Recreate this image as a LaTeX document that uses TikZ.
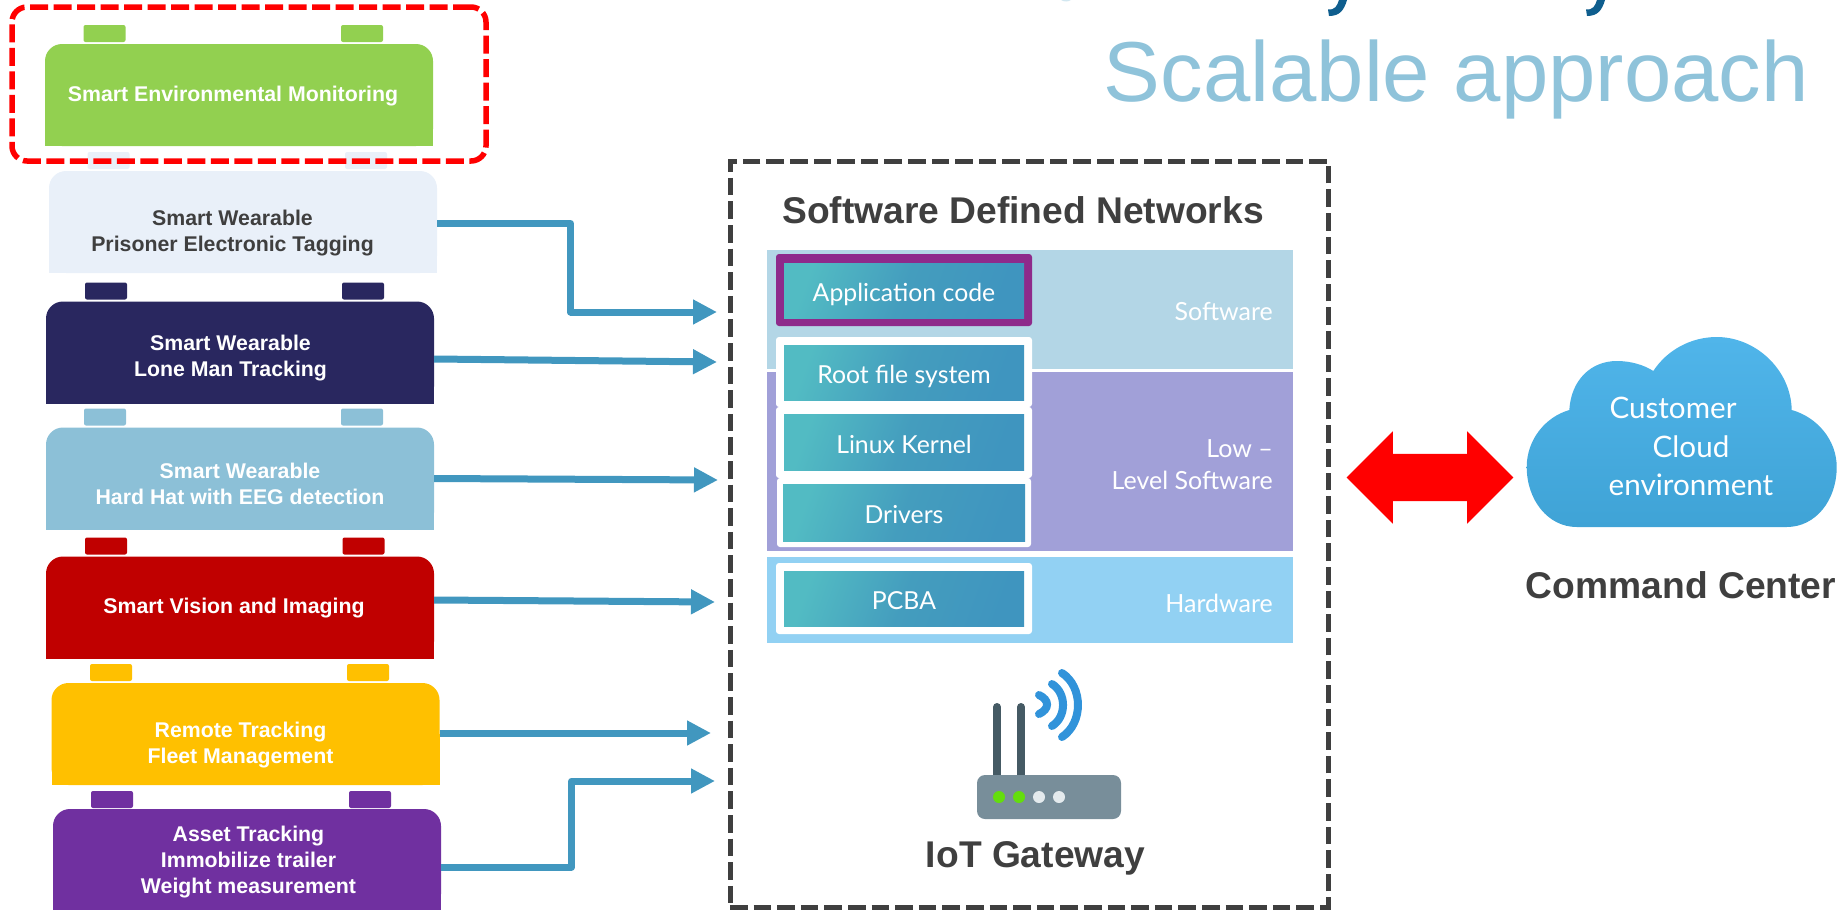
\documentclass[tikz,border=0pt]{standalone}
\usepackage{fontspec}
\setmainfont{Liberation Sans}
\newfontfamily\gillfont{Lato}
\usetikzlibrary{arrows.meta,shapes.arrows}
\definecolor{envgreen}{HTML}{92D050}
\definecolor{tagblue}{HTML}{E9F0F9}
\definecolor{lonenavy}{HTML}{29275F}
\definecolor{hatblue}{HTML}{8CC0D7}
\definecolor{visionred}{HTML}{C00000}
\definecolor{fleetgold}{HTML}{FFC000}
\definecolor{assetpurple}{HTML}{7030A0}
\definecolor{linkblue}{HTML}{4197BF}
\definecolor{darktext}{HTML}{3F3F3F}
\definecolor{softband}{HTML}{B3D6E6}
\definecolor{lowband}{HTML}{A1A0D8}
\definecolor{hardband}{HTML}{92D1F3}
\definecolor{layerteal}{HTML}{52BBC3}
\definecolor{layermid}{HTML}{449DBE}
\definecolor{layerblue}{HTML}{3F95BF}
\definecolor{apppurple}{HTML}{8E2A8B}
\definecolor{antennagrey}{HTML}{455A64}
\definecolor{routergrey}{HTML}{788E9A}
\definecolor{ledgreen}{HTML}{64DD0E}
\definecolor{ledgrey}{HTML}{E4EAED}
\definecolor{wavecolor}{HTML}{3193DA}
\definecolor{cloudtop}{HTML}{50B5EA}
\definecolor{cloudbottom}{HTML}{3FA3D6}
\definecolor{titledark}{HTML}{0F5E8E}
\definecolor{titlelight}{HTML}{8FC3DA}
\tikzset{
  devtab/.style={rectangle, draw=none, rounded corners=2pt, inner sep=0pt, minimum width=42pt, minimum height=17pt},
  devfoot/.style={rectangle, draw=none, inner sep=0pt, minimum width=388pt, minimum height=51pt},
  devbody/.style={rectangle, draw=none, rounded corners=17pt, inner sep=0pt, minimum width=388pt, minimum height=102pt},
  devtext/.style={inner sep=0pt, align=center, text=white, font=\fontsize{21.3}{26}\selectfont\bfseries},
  band/.style={rectangle, draw=none, inner sep=0pt, minimum width=526pt},
  layerframe/.style={rectangle, fill=white, draw=none, rounded corners=3pt, inner sep=0pt, minimum width=256pt},
  layerbox/.style={rectangle, draw=none, left color=layerteal, right color=layerblue, middle color=layermid, shading angle=70, inner sep=0pt, text height=22pt, text depth=0pt, minimum width=240pt, minimum height=55pt, font=\gillfont\fontsize{24.8}{30}\selectfont, text=white},
  bandlabel/.style={anchor=east, align=right, inner sep=0pt, font=\gillfont\fontsize{25}{31.5}\selectfont, text=white},
  heading/.style={inner sep=0pt, font=\fontsize{37.2}{44}\selectfont\bfseries, text=darktext},
  link/.style={draw=linkblue, line width=7pt, line join=round, -{Triangle[length=24pt,width=23.5pt]}},
  antenna/.style={draw=antennagrey, line width=8pt, line cap=round},
  wave/.style={draw=wavecolor, line width=8pt, line cap=round},
  led/.style={circle, draw=none, inner sep=0pt, minimum size=12pt}
}
\begin{document}
\begin{tikzpicture}[x=1pt,y=-1pt]
\useasboundingbox (0,0) rectangle (1847,910);
\node (title) [inner sep=0pt, anchor=base east, font=\fontsize{85.1}{90}\selectfont, text=titlelight] at (1809,101) {Scalable approach};
\fill [titledark] (1347,0) .. controls (1344,10) and (1340,16) .. (1329,16) -- (1328,9.5) .. controls (1335,10) and (1337,6) .. (1339,0) -- cycle;
\fill [titledark] (1605,0) .. controls (1602,10) and (1598,16) .. (1587,16) -- (1586,9.5) .. controls (1593,10) and (1595,6) .. (1597,0) -- cycle;
\fill [titlelight!40!white] (1061,0) .. controls (1064,2) and (1068,2) .. (1071,0) -- cycle;
% devices
\node (envtabl) [devtab, fill=envgreen] at (104.5,33.5) {};
\node (envtabr) [devtab, fill=envgreen] at (362,33.5) {};
\node (envfoot) [devfoot, fill=envgreen] at (239,120.5) {};
\node (env) [devbody, fill=envgreen] at (239,95) {};
\node (envtext) [devtext] at (233,96.5) {Smart Environmental Monitoring};
\node (tagtabl) [devtab, fill=tagblue] at (108.5,160.5) {};
\node (tagtabr) [devtab, fill=tagblue] at (366,160.5) {};
\node (tagfoot) [devfoot, fill=tagblue] at (243,247.5) {};
\node (tag) [devbody, fill=tagblue] at (243,222) {};
\node (tagtext) [devtext, text=darktext] at (232.5,233) {Smart Wearable\\Prisoner Electronic Tagging};
\node (lonetabl) [devtab, fill=lonenavy] at (106,291) {};
\node (lonetabr) [devtab, fill=lonenavy] at (363,291) {};
\node (lonefoot) [devfoot, fill=lonenavy] at (240,378.5) {};
\node (lone) [devbody, fill=lonenavy] at (240,352.5) {};
\node (lonetext) [devtext] at (230.5,358.5) {Smart Wearable\\Lone Man Tracking};
\node (hattabl) [devtab, fill=hatblue] at (105,417) {};
\node (hattabr) [devtab, fill=hatblue] at (362,417) {};
\node (hatfoot) [devfoot, fill=hatblue] at (240,504.5) {};
\node (hat) [devbody, fill=hatblue] at (240,478.5) {};
\node (hattext) [devtext] at (240,484) {Smart Wearable\\Hard Hat with EEG detection};
\node (vistabl) [devtab, fill=visionred] at (106,546) {};
\node (vistabr) [devtab, fill=visionred] at (363.5,546) {};
\node (visfoot) [devfoot, fill=visionred] at (240,633.5) {};
\node (vis) [devbody, fill=visionred] at (240,607.5) {};
\node (vistext) [devtext] at (234,608.5) {Smart Vision and Imaging};
\node (fleettabl) [devtab, fill=fleetgold] at (111,672.5) {};
\node (fleettabr) [devtab, fill=fleetgold] at (368,672.5) {};
\node (fleetfoot) [devfoot, fill=fleetgold] at (245.5,759.5) {};
\node (fleet) [devbody, fill=fleetgold] at (245.5,734) {};
\node (fleettext) [devtext] at (240.5,745.5) {Remote Tracking\\Fleet Management};
\node (assettabl) [devtab, fill=assetpurple] at (112,799.5) {};
\node (assettabr) [devtab, fill=assetpurple] at (370,799.5) {};
\node (assetfoot) [devfoot, fill=assetpurple] at (247,884.5) {};
\node (asset) [devbody, fill=assetpurple] at (247,860) {};
\node (assettext) [devtext] at (248.5,862) {Asset Tracking\\Immobilize trailer\\Weight measurement};
\node (envmark) [rectangle, draw=red, line width=5.5pt, dash pattern=on 18pt off 5.5pt, rounded corners=15pt, inner sep=0pt, minimum width=474pt, minimum height=154pt] at (249,84) {};
% gateway box
\node (sdnbox) [rectangle, draw=darktext, line width=5pt, dash pattern=on 17.6pt off 6pt, inner sep=0pt, minimum width=598pt, minimum height=746pt] at (1029,534) {};
\node (sdntitle) [heading] at (1023,210) {Software Defined Networks};
\node (softblock) [band, fill=softband, minimum height=119pt] at (1030,309.5) {};
\node (lowblock) [band, fill=lowband, minimum height=179pt] at (1030,461.5) {};
\node (hardblock) [band, fill=hardband, minimum height=86pt] at (1030,600) {};
\node (softlabel) [bandlabel] at (1273,312) {Software};
\node (lowlabel) [bandlabel] at (1273,464.5) {Low –\\Level Software};
\node (hardlabel) [bandlabel] at (1273,603.5) {Hardware};
\node (appframe) [layerframe, fill=apppurple, minimum height=72pt] at (904,290) {};
\node (rootframe) [layerframe, minimum height=70pt] at (904,372) {};
\node (linuxframe) [layerframe, minimum height=71pt] at (904,442.5) {};
\node (driverframe) [layerframe, minimum width=254pt, minimum height=69pt] at (904,512.5) {};
\node (pcbaframe) [layerframe, minimum height=71pt] at (904,598.5) {};
\node (appbox) [layerbox] at (904,290.5) {Application code};
\node (rootbox) [layerbox] at (904,372.5) {Root file system};
\node (linuxbox) [layerbox, minimum height=56pt] at (904,442) {Linux Kernel};
\node (driverbox) [layerbox, minimum width=242pt, minimum height=57pt] at (904,512.5) {Drivers};
\node (pcbabox) [layerbox] at (904,598.5) {PCBA};
% router
\draw [antenna] (997,707) -- (997,780);
\draw [antenna] (1021,707) -- (1021,780);
\node (router) [rectangle, fill=routergrey, rounded corners=8pt, inner sep=0pt, minimum width=144pt, minimum height=44pt] at (1049,797) {};
\node (ledone) [led, fill=ledgreen] at (999,797) {};
\node (ledtwo) [led, fill=ledgreen] at (1019,797) {};
\node (ledthree) [led, fill=ledgrey] at (1039,797) {};
\node (ledfour) [led, fill=ledgrey] at (1059,797) {};
\draw [wave] (1039,695) .. controls (1049.7,700) and (1049.7,709) .. (1039,714);
\draw [wave] (1052,684) .. controls (1066.7,693) and (1066.7,717) .. (1052,726);
\draw [wave] (1062,673) .. controls (1083.3,687) and (1083.3,723) .. (1062,737);
\node (iotlabel) [heading] at (1035.5,858.5) {IoT Gateway};
% links
\coordinate (tagend) at (717,312);
\coordinate (loneend) at (717,362);
\coordinate (hatend) at (718,480);
\coordinate (visend) at (715,602);
\coordinate (fleetend) at (711,733);
\coordinate (assetend) at (715,781);
\draw [link] ([yshift=-1.5pt]tag.east) -| (570.6,312) -- (tagend);
\draw [link] ([yshift=-6.5pt]lone.east) -- (loneend);
\draw [link] (hat.east) -- (hatend);
\draw [link] ([yshift=7.5pt]vis.east) -- (visend);
\draw [link] ([yshift=1pt]fleet.east) -- (fleetend);
\draw [link] ([yshift=-7pt]asset.east) -| (571.5,781) -- (assetend);
% cloud
\node (bothways) [double arrow, fill=red, draw=none, inner xsep=0pt, inner ysep=23.5pt, minimum height=166.6pt, double arrow head extend=22.5pt] at (1430,477.5) {};
\path [top color=cloudtop, bottom color=cloudbottom] (1576.7,527) .. controls (1548,527) and (1526.7,500) .. (1526.7,467) .. controls (1526.7,440) and (1545,417) .. (1569.3,410) .. controls (1571,380) and (1591,361) .. (1616.7,361) .. controls (1631,361) and (1644,365) .. (1653.3,371) .. controls (1667,350) and (1691,337) .. (1716.7,337) .. controls (1756,337) and (1791,370) .. (1791.7,410) .. controls (1817,417) and (1836.7,440) .. (1836.7,467) .. controls (1836.7,500) and (1816,527) .. (1786.7,527) -- cycle;
\node (cloudtext) [inner sep=0pt, align=center, text=white, font=\gillfont\fontsize{29.6}{38.5}\selectfont] at (1691,446.5) {Customer\hspace*{36pt}\\Cloud\hspace*{11pt}\\environment};
\node (centerlabel) [heading] at (1681,585) {Command Center};
\end{tikzpicture}
\end{document}
